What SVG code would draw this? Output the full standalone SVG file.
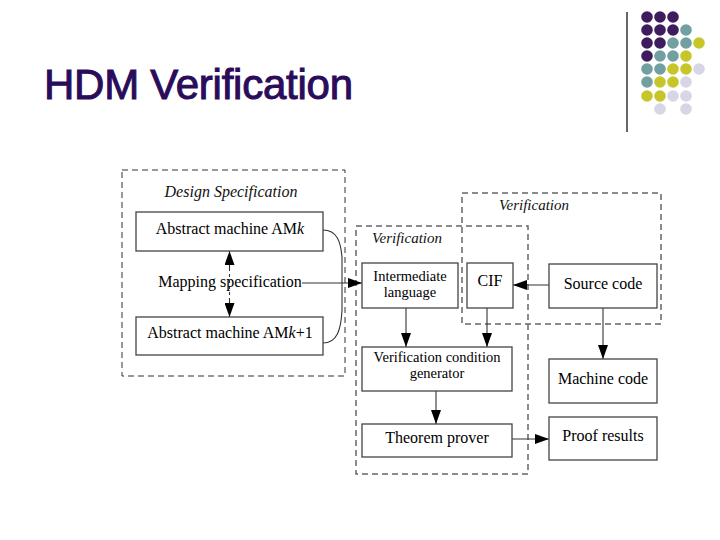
<svg xmlns="http://www.w3.org/2000/svg" width="720" height="540" viewBox="0 0 720 540">
<defs>
<style>
.t{font-family:"Liberation Serif","Times New Roman",serif;font-size:16px;fill:#000;text-anchor:middle}
.t2{font-family:"Liberation Serif","Times New Roman",serif;font-size:14.5px;fill:#000;text-anchor:middle}
.it{font-family:"Liberation Serif","Times New Roman",serif;font-style:italic;fill:#111;text-anchor:middle}
.box{fill:#fff;stroke:#444;stroke-width:1.3}
.grp{fill:none;stroke-dasharray:6 4}
.ln{fill:none;stroke:#333;stroke-width:1.1}
.pu{fill:#3f1c5e}.te{fill:#72a0a0}.ye{fill:#c6c62a}.la{fill:#d6d6e6}
</style>
<marker id="ah" viewBox="0 0 14 10" refX="14" refY="5" markerWidth="14" markerHeight="10" orient="auto-start-reverse" markerUnits="userSpaceOnUse"><path d="M0,0 L14,5 L0,10 z" fill="#000"/></marker>
</defs>
<rect width="720" height="540" fill="#fff"/>
<g id="decor">
<line x1="627" y1="12" x2="627" y2="132" stroke="#000" stroke-width="1.2"/>
<g>
<circle class="pu" cx="647" cy="17" r="5.8"/><circle class="pu" cx="660" cy="17" r="5.8"/><circle class="pu" cx="673" cy="17" r="5.8"/>
<circle class="pu" cx="647" cy="30" r="5.8"/><circle class="pu" cx="660" cy="30" r="5.8"/><circle class="pu" cx="673" cy="30" r="5.8"/><circle class="te" cx="686" cy="30" r="5.8"/>
<circle class="pu" cx="647" cy="43" r="5.8"/><circle class="pu" cx="660" cy="43" r="5.8"/><circle class="te" cx="673" cy="43" r="5.8"/><circle class="te" cx="686" cy="43" r="5.8"/><circle class="ye" cx="699" cy="43" r="5.8"/>
<circle class="pu" cx="647" cy="56" r="5.8"/><circle class="te" cx="660" cy="56" r="5.8"/><circle class="te" cx="673" cy="56" r="5.8"/><circle class="ye" cx="686" cy="56" r="5.8"/>
<circle class="te" cx="647" cy="69" r="5.8"/><circle class="te" cx="660" cy="69" r="5.8"/><circle class="ye" cx="673" cy="69" r="5.8"/><circle class="ye" cx="686" cy="69" r="5.8"/><circle class="la" cx="699" cy="69" r="5.8"/>
<circle class="te" cx="647" cy="82" r="5.8"/><circle class="ye" cx="660" cy="82" r="5.8"/><circle class="ye" cx="673" cy="82" r="5.8"/><circle class="la" cx="686" cy="82" r="5.8"/>
<circle class="ye" cx="647" cy="96" r="5.8"/><circle class="ye" cx="660" cy="96" r="5.8"/><circle class="la" cx="673" cy="96" r="5.8"/><circle class="la" cx="686" cy="96" r="5.8"/>
<circle class="la" cx="660" cy="109" r="5.8"/><circle class="la" cx="686" cy="109" r="5.8"/>
</g>
<text x="44" y="99" font-family="Liberation Sans, Arial, sans-serif" font-size="42" fill="#2a0c5a" stroke="#2a0c5a" stroke-width="1" textLength="309" lengthAdjust="spacing">HDM Verification</text>
</g>

<g id="group-design">
<rect class="grp" x="122" y="170" width="223" height="206" stroke="#333" stroke-width="1"/>
<text class="it" x="231" y="197" font-size="16">Design Specification</text>
</g>
<g id="group-verif-right">
<rect class="grp" x="462" y="193" width="199" height="131" stroke="#666" stroke-width="1.5"/>
<text class="it" x="534" y="210" font-size="15">Verification</text>
</g>
<g id="group-verif-left">
<rect class="grp" x="356" y="226" width="172" height="248" stroke="#666" stroke-width="1.5"/>
<text class="it" x="407" y="243" font-size="15">Verification</text>
</g>

<g id="connectors">
<line class="ln" x1="229.5" y1="251" x2="229.5" y2="268" marker-start="url(#ah)"/>
<line class="ln" x1="229.5" y1="268" x2="229.5" y2="300" stroke-dasharray="3 3"/>
<line class="ln" x1="229.5" y1="300" x2="229.5" y2="317" marker-end="url(#ah)"/>
<path class="ln" d="M323,230 C337,230 341,242 342,258 L342,283"/>
<path class="ln" d="M323,343 C337,343 341,330 342,310 L342,283"/>
<line class="ln" x1="302" y1="283" x2="362" y2="283" marker-end="url(#ah)"/>
<line class="ln" x1="549" y1="285" x2="513" y2="285" marker-end="url(#ah)"/>
<line class="ln" x1="406" y1="308" x2="406" y2="347" marker-end="url(#ah)"/>
<line class="ln" x1="487" y1="308" x2="487" y2="347" marker-end="url(#ah)"/>
<line class="ln" x1="603" y1="308" x2="603" y2="359" marker-end="url(#ah)"/>
<line class="ln" x1="436" y1="391" x2="436" y2="424" marker-end="url(#ah)"/>
<line class="ln" x1="512" y1="439" x2="549" y2="439" marker-end="url(#ah)"/>
</g>

<g id="amk"><rect class="box" x="136" y="212" width="187" height="39"/><text class="t" x="230" y="234">Abstract machine AM<tspan font-style="italic">k</tspan></text></g>
<g id="mapping"><text class="t" x="230" y="287">Mapping specification</text></g>
<g id="amk1"><rect class="box" x="136" y="317" width="187" height="38"/><text class="t" x="230" y="338">Abstract machine AM<tspan font-style="italic">k</tspan>+1</text></g>
<g id="intermediate"><rect class="box" x="362" y="263" width="96" height="45"/><text class="t2" x="410" y="281">Intermediate</text><text class="t2" x="410" y="297">language</text></g>
<g id="cif"><rect class="box" x="467" y="263" width="46" height="45"/><text class="t" x="490" y="286">CIF</text></g>
<g id="source"><rect class="box" x="549" y="264" width="108" height="44"/><text class="t" x="603" y="289">Source code</text></g>
<g id="vcg"><rect class="box" x="362" y="347" width="150" height="44"/><text class="t2" x="437" y="362">Verification condition</text><text class="t2" x="437" y="378">generator</text></g>
<g id="machine"><rect class="box" x="549" y="359" width="108" height="44"/><text class="t" x="603" y="384">Machine code</text></g>
<g id="prover"><rect class="box" x="362" y="424" width="150" height="33"/><text class="t" x="437" y="443">Theorem prover</text></g>
<g id="proof"><rect class="box" x="549" y="417" width="108" height="43"/><text class="t" x="603" y="441">Proof results</text></g>
</svg>
